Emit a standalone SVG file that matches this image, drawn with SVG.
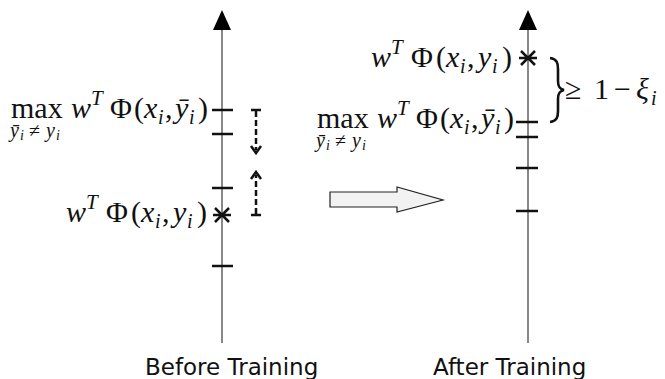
<svg xmlns="http://www.w3.org/2000/svg" width="665" height="379" viewBox="0 0 665 379">
<style>
.axis{stroke:#888;stroke-width:2;fill:none}
.tick{stroke:#111;stroke-width:2.5}
.dash{stroke:#111;stroke-width:2.5;stroke-dasharray:6 3;fill:none}
.bar{stroke:#111;stroke-width:2.5}
.head{stroke:#111;stroke-width:2.5;fill:none}
.m{font-family:"Liberation Serif","Times New Roman",serif;font-size:30px;fill:#111}
.it{font-style:italic}
.sup{font-style:italic;font-size:21px}
.sub{font-style:italic;font-size:20px}
.ss{font-family:"Liberation Serif","Times New Roman",serif;font-size:20px;fill:#111;font-style:italic}
.sss{font-size:14px}
.lbl{font-family:"DejaVu Sans",Verdana,sans-serif;font-size:23px;fill:#111}
</style>
<g id="left-axis">
<line class="axis" x1="222" y1="343" x2="222" y2="28"/>
<polygon points="222,10 213,30 231,30" fill="#000"/>
<line class="tick" x1="212" y1="110" x2="233" y2="110"/>
<line class="tick" x1="212" y1="134" x2="233" y2="134"/>
<line class="tick" x1="212" y1="188" x2="233" y2="188"/>
<line class="tick" x1="212" y1="266" x2="233" y2="266"/>
<path d="M215,208 L229,222 M215,222 L229,208 M213,215 L231,215" stroke="#111" stroke-width="2.5"/>
</g>
<g id="right-axis">
<line class="axis" x1="528" y1="343" x2="528" y2="28"/>
<polygon points="528,10 519,30 537,30" fill="#000"/>
<line class="tick" x1="516" y1="122" x2="538" y2="122"/>
<line class="tick" x1="516" y1="137" x2="538" y2="137"/>
<line class="tick" x1="516" y1="168" x2="538" y2="168"/>
<line class="tick" x1="516" y1="211" x2="538" y2="211"/>
<path d="M521,51 L535,65 M521,65 L535,51 M519,58 L537,58" stroke="#111" stroke-width="2.5"/>
</g>
<g id="connectors">
<line class="bar" x1="251" y1="110" x2="261" y2="110"/>
<line class="dash" x1="256" y1="111" x2="256" y2="150"/>
<path class="head" d="M251,146 L256,153 L261,146"/>
<line class="bar" x1="251" y1="215" x2="261" y2="215"/>
<line class="dash" x1="256" y1="214" x2="256" y2="175"/>
<path class="head" d="M251,179 L256,172 L261,179"/>
<polygon points="330,192 397,192 397,187 443,200 397,212 397,207 330,207" fill="#f2f2f2" stroke="#222" stroke-width="1.2"/>
</g>
<g id="label-left-max">
<text class="m" y="118"><tspan x="11">max</tspan><tspan class="it" x="71">w</tspan><tspan class="sup" x="91" y="105">T</tspan><tspan x="110" y="118">Φ</tspan><tspan x="134">(</tspan><tspan class="it" x="144">x</tspan><tspan class="sub" x="158" y="124">i</tspan><tspan x="165" y="118">,</tspan><tspan class="it" x="175">ȳ</tspan><tspan class="sub" x="189" y="124">i</tspan><tspan x="198" y="118">)</tspan></text>
<text class="ss" y="137"><tspan x="10">ȳ</tspan><tspan class="sss" x="20" y="140">i</tspan><tspan x="29" y="137" font-style="normal">≠</tspan><tspan x="46">y</tspan><tspan class="sss" x="56" y="140">i</tspan></text>
</g>
<g id="label-left-w">
<text class="m" y="222"><tspan class="it" x="66">w</tspan><tspan class="sup" x="86" y="209">T</tspan><tspan x="106" y="222">Φ</tspan><tspan x="131">(</tspan><tspan class="it" x="141">x</tspan><tspan class="sub" x="155" y="228">i</tspan><tspan x="162" y="222">,</tspan><tspan class="it" x="173">y</tspan><tspan class="sub" x="187" y="228">i</tspan><tspan x="197" y="222">)</tspan></text>
</g>
<g id="label-right-w">
<text class="m" y="67"><tspan class="it" x="371">w</tspan><tspan class="sup" x="391" y="54">T</tspan><tspan x="411" y="67">Φ</tspan><tspan x="436">(</tspan><tspan class="it" x="446">x</tspan><tspan class="sub" x="460" y="73">i</tspan><tspan x="467" y="67">,</tspan><tspan class="it" x="478">y</tspan><tspan class="sub" x="492" y="73">i</tspan><tspan x="502" y="67">)</tspan></text>
</g>
<g id="label-right-max">
<text class="m" y="128"><tspan x="317">max</tspan><tspan class="it" x="377">w</tspan><tspan class="sup" x="397" y="115">T</tspan><tspan x="416" y="128">Φ</tspan><tspan x="440">(</tspan><tspan class="it" x="450">x</tspan><tspan class="sub" x="464" y="134">i</tspan><tspan x="471" y="128">,</tspan><tspan class="it" x="481">ȳ</tspan><tspan class="sub" x="495" y="134">i</tspan><tspan x="504" y="128">)</tspan></text>
<text class="ss" y="147"><tspan x="316">ȳ</tspan><tspan class="sss" x="326" y="150">i</tspan><tspan x="335" y="147" font-style="normal">≠</tspan><tspan x="352">y</tspan><tspan class="sss" x="362" y="150">i</tspan></text>
</g>
<g id="brace">
<path d="M550,58 C557,59 558,63 558,69 L558,81 C558,86 559,89 564,90 C559,91 558,94 558,99 L558,111 C558,117 557,121 550,122" fill="none" stroke="#111" stroke-width="2.6"/>
<text class="m" y="99"><tspan x="565">≥</tspan><tspan x="594">1</tspan><tspan x="614">−</tspan><tspan class="it" x="636">ξ</tspan><tspan class="sub" x="651" y="105">i</tspan></text>
</g>
<g id="title-before"><text class="lbl" x="145" y="375">Before Training</text></g>
<g id="title-after"><text class="lbl" x="433" y="375">After Training</text></g>
</svg>
